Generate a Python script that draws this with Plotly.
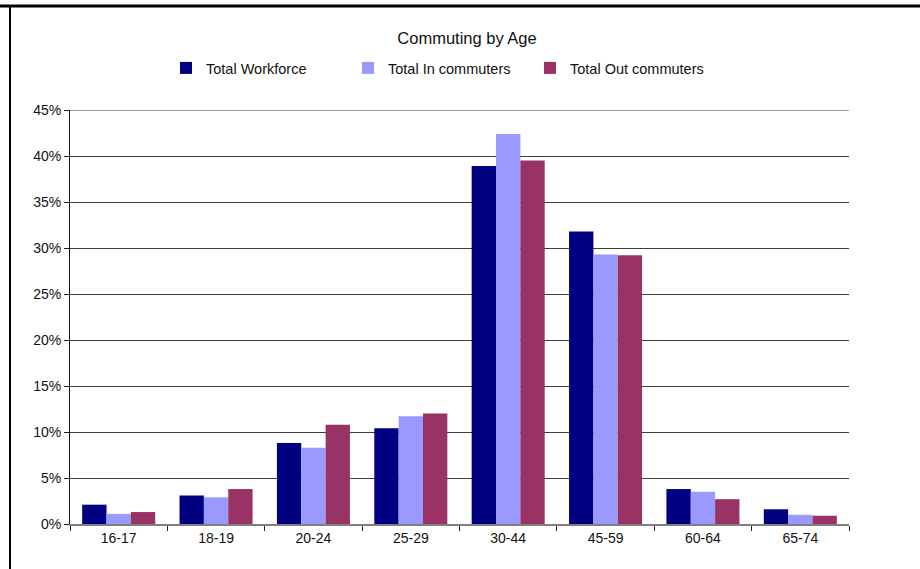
import plotly.graph_objects as go

# Age bands and share of each commuter group (percent)
age_groups = ["16-17", "18-19", "20-24", "25-29", "30-44", "45-59", "60-64", "65-74"]
total_workforce = [2.1, 3.1, 8.8, 10.4, 38.9, 31.8, 3.8, 1.6]
total_in_commuters = [1.1, 2.9, 8.3, 11.7, 42.4, 29.3, 3.5, 1.0]
total_out_commuters = [1.3, 3.8, 10.8, 12.0, 39.5, 29.2, 2.7, 0.9]

y_ticks = [0, 5, 10, 15, 20, 25, 30, 35, 40, 45]
y_tick_labels = [f"{v}%" for v in y_ticks]

series_names = ["Total Workforce", "Total In commuters", "Total Out commuters"]
series_colors = ["#000080", "#9999FF", "#993366"]

W, H = 920, 569
ML, MR, MT, MB = 70, 71, 110, 45
PW, PH = W - ML - MR, H - MT - MB

fig = go.Figure()
for name, vals, col in zip(series_names,
                           [total_workforce, total_in_commuters, total_out_commuters],
                           series_colors):
    fig.add_trace(go.Bar(x=age_groups, y=vals, name=name,
                         marker=dict(color=col, line=dict(width=0))))


def px_x(p):
    return (p - ML) / PW


def px_y(p):
    return (H - MB - p) / PH


fig.update_layout(
    width=W, height=H,
    margin=dict(l=ML, r=MR, t=MT, b=MB),
    paper_bgcolor="white", plot_bgcolor="white",
    font=dict(family="Arial, Liberation Sans, sans-serif", color="#111", size=14),
    barmode="group", bargap=0.25, bargroupgap=0,
    title=dict(text="Commuting by Age", x=467 / W, xanchor="center",
               y=1 - 38 / H, yanchor="middle", font=dict(size=16.5, color="#111")),
    showlegend=True,
    legend=dict(orientation="h", x=px_x(166), xanchor="left",
                yref="container", y=1 - 68 / H, yanchor="middle",
                entrywidth=137, entrywidthmode="pixels", itemwidth=30,
                font=dict(size=14.5, color="#111"), bgcolor="rgba(0,0,0,0)"),
    xaxis=dict(showline=True, linecolor="#808080", linewidth=2,
               ticks="outside", tickson="boundaries", ticklen=5, tickcolor="#222",
               tickfont=dict(size=14), showgrid=False),
    yaxis=dict(range=[0, y_ticks[-1]], tickmode="array",
               tickvals=y_ticks, ticktext=y_tick_labels,
               showline=True, linecolor="#111", linewidth=1,
               ticks="outside", ticklen=5, tickcolor="#222",
               showgrid=True, gridcolor="#3c3c3c", gridwidth=1,
               zeroline=False, tickfont=dict(size=14)),
    shapes=[
        # gridline along the top of the value axis
        dict(type="line", xref="paper", yref="y",
             x0=0, x1=1, y0=y_ticks[-1], y1=y_ticks[-1],
             line=dict(color="#3c3c3c", width=1)),
        # frame edges
        dict(type="line", xref="paper", yref="paper",
             x0=px_x(0), x1=px_x(W), y0=px_y(6), y1=px_y(6),
             line=dict(color="black", width=3)),
        dict(type="line", xref="paper", yref="paper",
             x0=px_x(10), x1=px_x(10), y0=px_y(5), y1=px_y(H),
             line=dict(color="black", width=2)),
    ],
)

fig.write_html("out.html")
